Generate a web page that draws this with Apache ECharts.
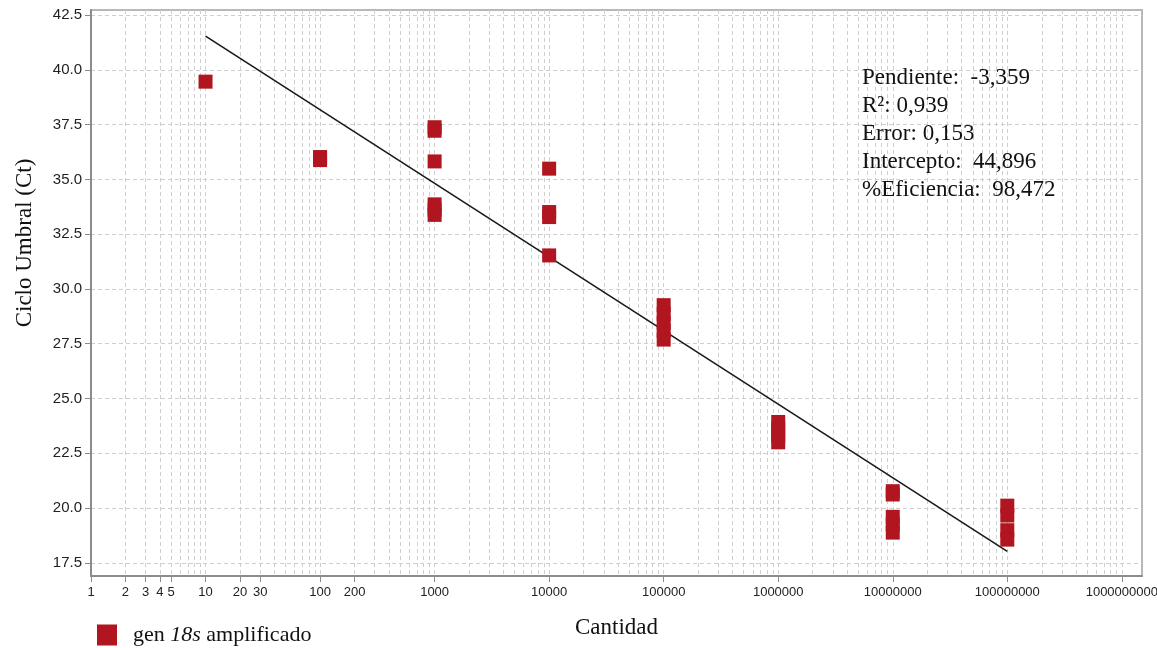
<!DOCTYPE html>
<html>
<head>
<meta charset="utf-8">
<script src="https://cdn.jsdelivr.net/npm/echarts@6/dist/echarts.min.js"></script>
<style>
  html, body { margin: 0; padding: 0; background: #ffffff; }
  #chart { width: 1157px; height: 648px; }
</style>
</head>
<body>
<div id="chart"></div>
<script>
// Standard curve: quantity (copies) vs. threshold cycle (Ct)
const cantidad = [
  10,
  100, 100,
  1000, 1000, 1000, 1000, 1000, 1000,
  10000, 10000, 10000, 10000,
  100000, 100000, 100000, 100000, 100000,
  1000000, 1000000, 1000000, 1000000,
  10000000, 10000000, 10000000, 10000000, 10000000,
  100000000, 100000000, 100000000, 100000000
];
const ct = [
  39.46,
  36.02, 35.88,
  37.38, 37.22, 35.82, 33.86, 33.62, 33.38,
  35.49, 33.51, 33.28, 31.53,
  29.26, 28.86, 28.46, 28.08, 27.69,
  23.93, 23.62, 23.31, 23.00,
  20.77, 20.62, 19.60, 19.25, 18.88,
  20.11, 19.66, 18.99, 18.56
];

// Axis tick labels
const xTickLabels = [1, 2, 3, 4, 5, 10, 20, 30, 100, 200, 1000, 10000, 100000,
  1000000, 10000000, 100000000, 1000000000];
const yTickLabels = [17.5, 20.0, 22.5, 25.0, 27.5, 30.0, 32.5, 35.0, 37.5, 40.0, 42.5];

// Regression summary
const pendiente = -3.359;
const r2 = 0.939;
const errorFit = 0.153;
const intercepto = 44.896;
const eficiencia = 98.472;
const fitRange = [10, 100000000];

const serieNombre = 'gen 18s amplificado';

const X_MIN = 1, X_MAX = 1.5e9;
const Y_MIN = 16.9, Y_MAX = 42.73;

// Minor log grid: 1..9 in every decade
const gridValues = [];
for (let k = 0; k < 10; k++) {
  for (let m = 1; m < 10; m++) {
    const v = m * Math.pow(10, k);
    if (v <= X_MAX) gridValues.push(v);
  }
}

const coma = (v, d) => v.toFixed(d).replace('.', ',');
const statLines = [
  'Pendiente:  ' + coma(pendiente, 3),
  'R\u00B2: ' + coma(r2, 3),
  'Error: ' + coma(errorFit, 3),
  'Intercepto:  ' + coma(intercepto, 3),
  '%Eficiencia:  ' + coma(eficiencia, 3)
];

const serif = '"Liberation Serif", "Times New Roman", serif';
const sans = '"Liberation Sans", Arial, sans-serif';
const axisGray = '#8c8c8c';
const gridGray = '#cfcfcf';
const red = '#b1151f';

const chart = echarts.init(document.getElementById('chart'), null, { renderer: 'canvas' });

chart.setOption({
  animation: false,
  backgroundColor: '#ffffff',
  grid: {
    left: 91, right: 15, top: 10, bottom: 72,
    outerBoundsMode: 'none',
    containLabel: false,
    show: true, borderColor: '#b8b8b8', borderWidth: 2
  },
  xAxis: [
    {
      type: 'log', logBase: 10, min: X_MIN, max: X_MAX, position: 'bottom',
      name: 'Cantidad', nameLocation: 'middle', nameGap: 40,
      nameTextStyle: { fontFamily: serif, fontSize: 23, color: '#111' },
      axisLine: { show: true, lineStyle: { color: axisGray, width: 2 } },
      axisTick: { show: true, length: 6, customValues: xTickLabels, lineStyle: { color: axisGray } },
      axisLabel: {
        customValues: xTickLabels, hideOverlap: false, margin: 10,
        formatter: v => String(Math.round(v)),
        fontFamily: sans, fontSize: 13, color: '#222'
      },
      splitLine: { show: false }
    },
    {
      type: 'log', logBase: 10, min: X_MIN, max: X_MAX, position: 'bottom',
      axisLine: { show: false },
      axisTick: { show: false, customValues: gridValues },
      axisLabel: { show: false },
      splitLine: { show: true, lineStyle: { color: gridGray, width: 1, type: [4, 3] } }
    }
  ],
  yAxis: {
    type: 'value', min: Y_MIN, max: Y_MAX,
    axisLine: { show: true, lineStyle: { color: axisGray, width: 2 } },
    axisTick: { show: true, length: 6, customValues: yTickLabels, lineStyle: { color: axisGray } },
    axisLabel: {
      customValues: yTickLabels, margin: 9,
      formatter: v => v.toFixed(1),
      fontFamily: sans, fontSize: 15, color: '#222'
    },
    splitLine: { show: true, lineStyle: { color: gridGray, width: 1, type: [4, 3] } }
  },
  legend: {
    data: [serieNombre],
    left: 97, top: 624, padding: 0,
    icon: 'rect', itemWidth: 20, itemHeight: 21,
    formatter: () => 'gen {it|18s} amplificado',
    textStyle: {
      fontFamily: serif, fontSize: 22, color: '#111', padding: [0, 0, 0, 11],
      rich: { it: { fontFamily: serif, fontSize: 22, fontStyle: 'italic', color: '#111' } }
    }
  },
  series: [
    {
      name: 'ajuste',
      type: 'line',
      xAxisIndex: 0,
      data: fitRange.map(x => [x, intercepto + pendiente * Math.log10(x)]),
      symbol: 'none',
      silent: true,
      lineStyle: { color: '#1a1a1a', width: 1.6 },
      z: 2
    },
    {
      name: serieNombre,
      type: 'scatter',
      xAxisIndex: 0,
      data: cantidad.map((q, i) => [q, ct[i]]),
      symbol: 'rect',
      symbolSize: [14, 14],
      itemStyle: { color: red, opacity: 1 },
      z: 3
    }
  ],
  graphic: [
    {
      type: 'text',
      x: 862, y: 64, z: 100,
      style: {
        text: statLines.join('\n'),
        font: '23px ' + serif,
        lineHeight: 28,
        fill: '#111',
        stroke: null,
        lineWidth: 0,
        verticalAlign: 'top'
      }
    },
    {
      type: 'text',
      x: 25, y: 243, z: 100,
      rotation: Math.PI / 2,
      style: {
        text: 'Ciclo Umbral (Ct)',
        font: '23px ' + serif,
        fill: '#111',
        stroke: null,
        lineWidth: 0,
        align: 'center',
        verticalAlign: 'middle'
      }
    }
  ]
});
</script>
</body>
</html>
